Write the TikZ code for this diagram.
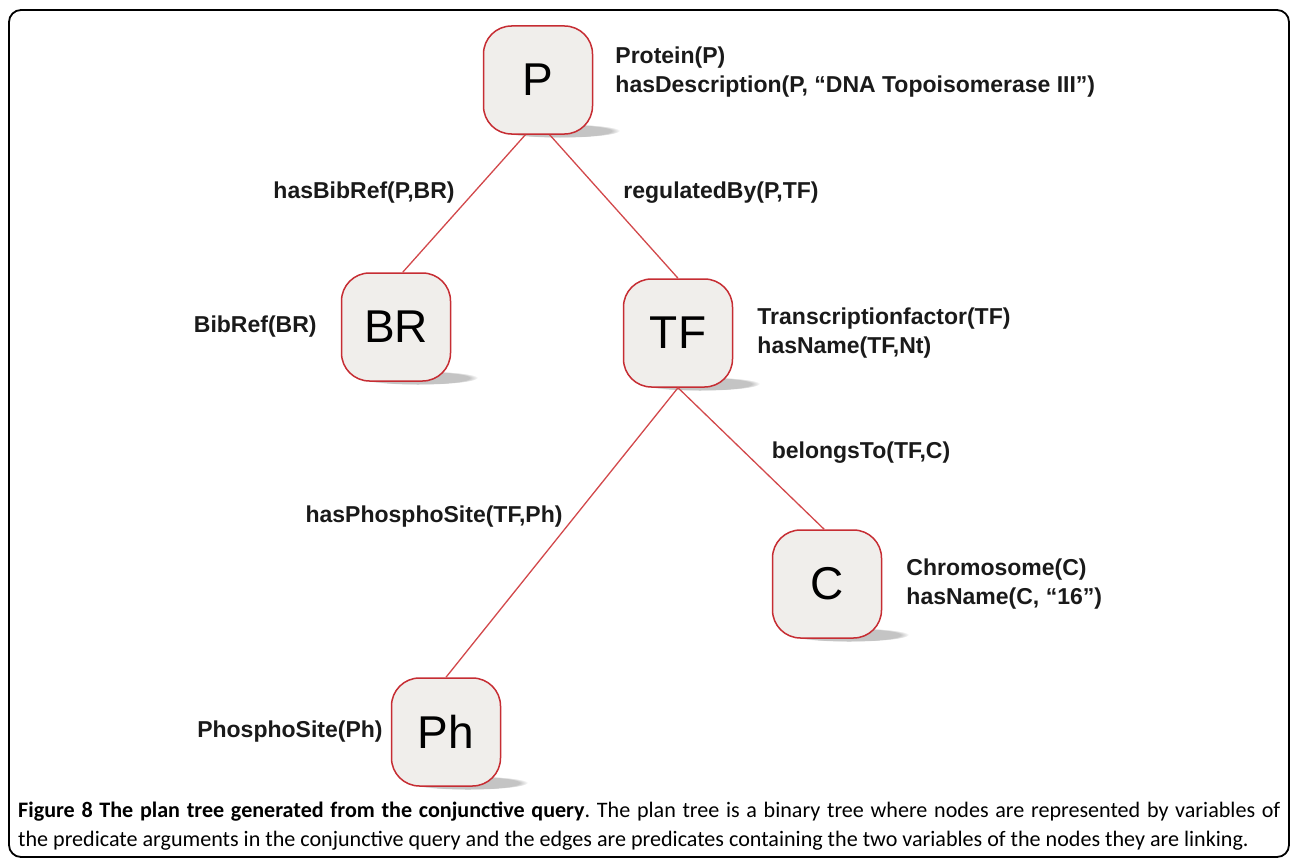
\documentclass[tikz,border=0pt]{standalone}
\usepackage{fontspec}
\setmainfont{Liberation Sans}
\newfontfamily\capfont{Carlito}
\usetikzlibrary{positioning,backgrounds,fadings,calc}
\definecolor{VarBord}{HTML}{C62D33}
\definecolor{VarFill}{HTML}{F0EEEB}
\definecolor{EdgeMain}{HTML}{D2484B}
\definecolor{ShdGray}{HTML}{C4C4C4}
\definecolor{Ink}{HTML}{1A1A1A}
\tikzset{
  var/.style={rectangle, rounded corners=28pt, draw=VarBord, fill=VarFill, line width=1.5pt,
              minimum width=109pt, minimum height=108pt, inner sep=0pt,
              font=\fontsize{46}{46}\selectfont},
  pred/.style={font=\bfseries\fontsize{23}{29.5}\selectfont, text=Ink, align=left, inner sep=0pt},
  link/.style={draw=EdgeMain, line width=1.3pt},
  shd/.style={fill=ShdGray, path fading=circle with fuzzy edge 15 percent},
  frm/.style={draw=black, line width=1.8pt, rounded corners=12pt},
}

\begin{document}
\begin{tikzpicture}[x=1pt, y=-1pt,
  captxt/.style={font=\capfont\fontsize{22.1}{29}\selectfont\frenchspacing, text width=1262pt,
              align=justify, anchor=north west, inner sep=0pt},
]
\useasboundingbox (0,0) rectangle (1290,859);

% ======================= outer frame ================================================
\draw[frm] (9,10) rectangle (1289,857);

% ======================= variable nodes (pixel centres) =============================
\node[var] (P)  at (538,80)  {P};
\node[var] (BR) at (396,327) {BR};
\node[var] (TF) at (678,333) {TF};
\node[var] (C)  at (827,584) {C};
\node[var] (Ph) at (446,732) {Ph};

% soft shadows under each node
\begin{scope}[on background layer]
  \foreach \n in {P,BR,TF,C,Ph}
    \fill[shd] ($(\n.south)+(22,-4)$) ellipse [x radius=60pt, y radius=7pt];
\end{scope}

% ======================= unary predicates next to the nodes =========================
\node[pred, right=22pt of P, yshift=8pt] (pP)
  {Protein(P)\\hasDescription(P, ``DNA Topoisomerase III'')};
\node[pred, left=24pt of BR] (pBR) {BibRef(BR)};
\node[pred, right=24pt of TF] (pTF) {Transcriptionfactor(TF)\\hasName(TF,Nt)};
\node[pred, right=24pt of C] (pC) {Chromosome(C)\\hasName(C, ``16'')};
\node[pred, left=8pt of Ph] (pPh) {PhosphoSite(Ph)};

% ======================= binary predicates on the edges =============================
\node[pred] (eBR) at (364,193) {hasBibRef(P,BR)};
\node[pred] (eTF) at (721,193) {regulatedBy(P,TF)};
\node[pred] (eC)  at (861,453) {belongsTo(TF,C)};
\node[pred] (ePh) at (434,517) {hasPhosphoSite(TF,Ph)};

% ======================= edges ======================================================
\draw[link] (P.-103) -- (BR.83);
\draw[link] (P.-78) -- (TF.north);
\draw[link] (TF.south) -- (Ph.north);
\draw[link] (TF.south) -- (C.93);

% ======================= caption ====================================================
\node[captxt] (capt) at (18,802)
  {\textbf{Figure 8 The plan tree generated from the conjunctive query}. The plan tree is a binary tree where nodes are represented by variables of\linebreak the predicate arguments in the conjunctive query and the edges are predicates containing the two variables of the nodes they are linking.};

\end{tikzpicture}
\end{document}
